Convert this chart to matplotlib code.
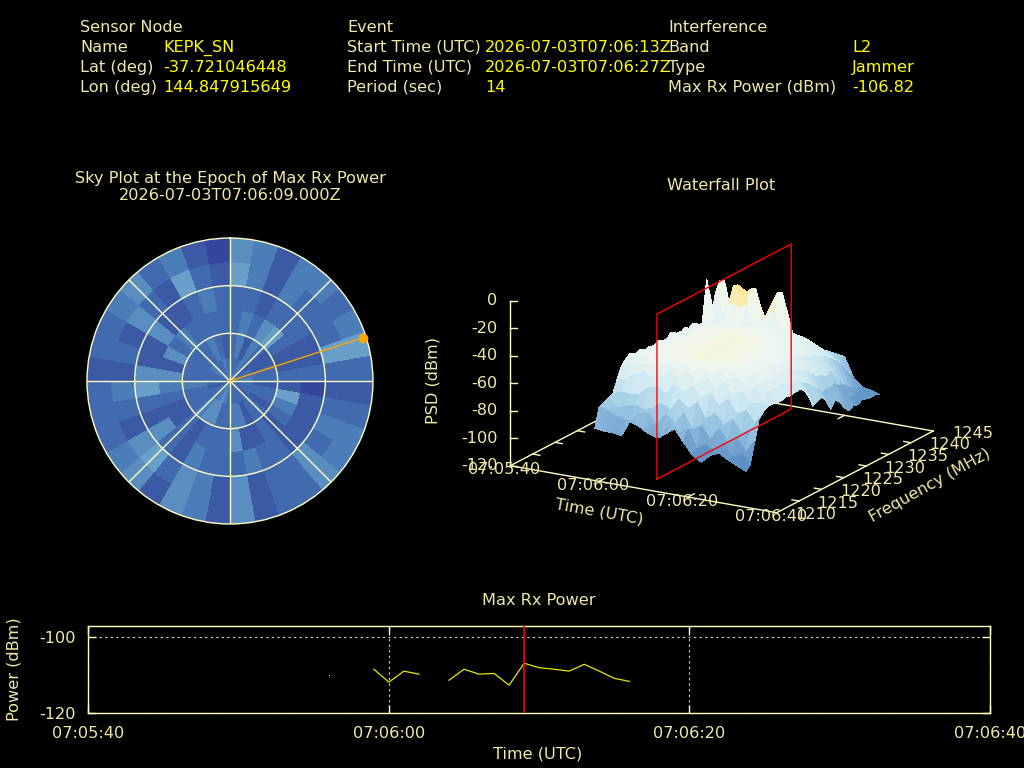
"""Interference report: sky plot, waterfall surface and max rx power strip."""

import matplotlib

matplotlib.use("Agg")
import matplotlib.pyplot as plt
import numpy as np
from matplotlib.colors import LinearSegmentedColormap, Normalize
from mpl_toolkits.mplot3d import proj3d

W, H = 1024, 768
LABEL = "#EEE8AA"
VALUE = "#FFFF00"
AXIS = "#FFFFC4"
FS = 11.65

# header blocks: (label, value)
sensor_rows = [("Name", "KEPK_SN"), ("Lat (deg)", "-37.721046448"), ("Lon (deg)", "144.847915649")]
event_rows = [("Start Time (UTC)", "2026-07-03T07:06:13Z"), ("End Time (UTC)", "2026-07-03T07:06:27Z"),
              ("Period (sec)", "14")]
interf_rows = [("Band", "L2"), ("Type", "Jammer"), ("Max Rx Power (dBm)", "-106.82")]

# sky map: one row per 10 deg of azimuth (clockwise from north), rings centre -> horizon
sky_levels = [
    [3, 3, 3, 3, 6, 5], [3, 4, 4, 3, 4, 4], [3, 2, 3, 2, 2, 2], [4, 4, 5, 3, 4, 4],
    [3, 3, 6, 3, 3, 4], [2, 2, 3, 3, 3, 3], [3, 2, 2, 2, 3, 4], [3, 3, 2, 2, 6, 6],
    [4, 3, 3, 3, 3, 3], [3, 2, 2, 1, 2, 2], [3, 3, 6, 2, 3, 3], [3, 3, 4, 2, 4, 4],
    [3, 2, 3, 2, 3, 4], [2, 3, 2, 2, 5, 5], [3, 3, 3, 3, 3, 3], [3, 2, 2, 3, 3, 3],
    [3, 4, 2, 4, 2, 2], [3, 4, 5, 3, 5, 5], [3, 3, 3, 3, 2, 2], [4, 3, 3, 3, 4, 4],
    [5, 5, 3, 4, 5, 5], [4, 5, 2, 2, 3, 2], [3, 4, 3, 3, 6, 5], [3, 3, 2, 5, 5, 4],
    [3, 3, 2, 2, 2, 3], [2, 3, 3, 3, 3, 3], [3, 4, 4, 6, 4, 3], [3, 3, 5, 5, 2, 2],
    [3, 3, 2, 2, 3, 3], [3, 3, 5, 2, 2, 3], [4, 3, 3, 5, 5, 4], [4, 3, 4, 2, 3, 5],
    [3, 3, 3, 2, 2, 3], [3, 4, 3, 3, 6, 4], [4, 3, 3, 4, 3, 2], [3, 2, 3, 3, 2, 1],
]
max_az_deg = 72
max_zenith_deg = 88

# waterfall: seconds after 07:05:40, MHz, PSD in dBm
wf_time = [15, 17, 19, 21, 23, 25, 27, 29, 31, 33, 35, 37, 39, 41, 43, 45, 47, 49]
wf_freq = list(range(1214, 1245))
wf_psd = [
    [-91, -77, -76, -74, -73, -64, -56, -52, -50, -53, -51, -54, -52, -55, -51, -53, -54, -50, -53, -55, -52, -54, -52, -55, -56, -25, -55, -38, -31, -33, -60],
    [-92, -79, -78, -80, -70, -63, -53, -50, -49, -50, -49, -51, -50, -48, -50, -49, -51, -50, -49, -50, -51, -50, -52, -51, -53, -54, -57, -58, -59, -63, -65],
    [-92, -82, -84, -78, -71, -58, -52, -49, -48, -47, -49, -48, -47, -49, -48, -47, -48, -49, -47, -48, -49, -50, -49, -51, -52, -54, -42, -31, -32, -46, -66],
    [-93, -84, -86, -76, -70, -55, -52, -47, -47, -48, -46, -47, -48, -46, -47, -48, -46, -47, -48, -47, -48, -49, -50, -49, -51, -53, -44, -38, -36, -48, -65],
    [-81, -85, -79, -78, -64, -58, -49, -48, -46, -47, -46, -46, -47, -45, -46, -47, -46, -45, -47, -46, -47, -48, -49, -50, -50, -52, -42, -31, -32, -46, -66],
    [-84, -88, -78, -76, -62, -57, -50, -46, -46, -45, -46, -45, -46, -46, -45, -46, -45, -46, -45, -46, -47, -47, -49, -49, -51, -54, -58, -57, -58, -62, -64],
    [-88, -83, -85, -71, -66, -52, -50, -47, -45, -46, -45, -44, -45, -46, -44, -45, -46, -45, -44, -46, -46, -47, -48, -50, -50, -53, -48, -44, -46, -54, -64],
    [-90, -91, -76, -75, -58, -56, -47, -46, -45, -44, -45, -45, -44, -45, -44, -45, -44, -45, -46, -45, -46, -47, -48, -49, -50, -52, -42, -30, -32, -46, -65],
    [-86, -80, -82, -66, -63, -50, -50, -45, -45, -44, -44, -45, -44, -45, -44, -44, -45, -44, -45, -46, -47, -47, -48, -50, -51, -53, -56, -58, -62, -70, -72],
    [-81, -86, -73, -72, -57, -56, -47, -47, -45, -44, -45, -44, -45, -44, -45, -45, -44, -46, -45, -46, -47, -48, -49, -49, -50, -52, -55, -60, -65, -72, -73],
    [-90, -82, -84, -66, -64, -50, -51, -46, -45, -45, -44, -45, -45, -46, -45, -46, -45, -46, -47, -46, -48, -47, -49, -50, -51, -54, -57, -62, -67, -72, -74],
    [-98, -95, -80, -77, -60, -58, -48, -48, -46, -46, -45, -46, -46, -45, -46, -47, -46, -47, -48, -48, -49, -49, -50, -51, -53, -55, -59, -64, -69, -72, -73],
    [-102, -91, -89, -72, -68, -53, -53, -47, -47, -46, -47, -46, -47, -47, -46, -47, -48, -48, -49, -49, -50, -50, -52, -53, -55, -58, -62, -66, -70, -73, -74],
    [-96, -95, -80, -79, -62, -61, -50, -50, -48, -48, -47, -48, -47, -48, -49, -48, -49, -50, -50, -51, -51, -53, -54, -56, -58, -61, -65, -68, -71, -74, -75],
    [-93, -88, -89, -74, -72, -57, -56, -50, -49, -50, -49, -50, -49, -51, -50, -51, -52, -53, -54, -55, -57, -58, -60, -62, -64, -67, -70, -74, -79, -85, -89],
    [-97, -97, -85, -83, -68, -65, -55, -55, -53, -54, -53, -54, -55, -54, -56, -57, -59, -61, -63, -66, -70, -71, -74, -72, -78, -82, -86, -90, -92, -94, -95],
    [-100, -93, -93, -79, -76, -63, -64, -58, -58, -59, -58, -60, -59, -61, -63, -65, -68, -72, -75, -80, -78, -79, -77, -80, -85, -92, -94, -91, -93, -95, -96],
    [-103, -100, -85, -70, -66, -64, -64, -65, -65, -64, -65, -64, -64, -66, -72, -81, -79, -78, -82, -90, -85, -88, -94, -98, -96, -97, -95, -96, -97, -96, -98],
]
psd_ticks = [0, -20, -40, -60, -80, -100, -120]
freq_ticks = [1210, 1215, 1220, 1225, 1230, 1235, 1240, 1245]
time_ticks = [0, 20, 40, 60]
time_labels = ["07:05:40", "07:06:00", "07:06:20", "07:06:40"]
epoch_sec = 29

# max rx power strip
power_time = [16, 17, 18, 19, 20, 21, 22, 23, 24, 25, 26, 27, 28, 29, 30, 31, 32, 33, 34, 35, 36]
power_dbm = [-110.3, np.nan, np.nan, -108.4, -111.8, -108.9, -109.7, np.nan, -111.3, -108.4, -109.7,
             -109.5, -112.6, -106.82, -108.0, -108.4, -108.9, -107.1, -108.9, -110.8, -111.6]

# surface palette, low to high
wf_cmap = LinearSegmentedColormap.from_list("waterfall", [
    (0.00, "#5078B9"), (0.203, "#6496C8"), (0.405, "#96C3E1"), (0.608, "#CDE8F2"),
    (0.851, "#EEF6F0"), (0.919, "#FAF5CD"), (1.00, "#FAE49B"),
])


def px_axes(fig, left, top, right, bottom, **kw):
    return fig.add_axes([left / W, 1 - bottom / H, (right - left) / W, (bottom - top) / H], **kw)


fig = plt.figure(figsize=(W / 100, H / 100), dpi=100, facecolor="black")

# ---- waterfall, an orthographic box fitted so the base corners land where they should
ax3 = fig.add_axes([0, 0, 1, 1], projection="3d", proj_type="ortho", computed_zorder=False)
ax3.set_xlim(0, 60)
ax3.set_ylim(1210, 1245)
ax3.set_zlim(-120, 0)
ax3.set_box_aspect((308.2, 311.5, 173.2))
ax3.view_init(elev=17.66, azim=-59.82)
ax3.set_axis_off()
ax3.patch.set_visible(False)

M = ax3.get_proj()
vx0, vy0, _ = proj3d.proj_transform(0, 1210, -120, M)
vx1, _, _ = proj3d.proj_transform(60, 1210, -120, M)
xlo, xhi = ax3.viewLim.intervalx  # get_xlim gives the data limits on a 3d axes
ylo, yhi = ax3.viewLim.intervaly
span = xhi - xlo
side = 266.4 / (vx1 - vx0) * span
ppu = side / span
origin_x, origin_y = 510.3, 465.7
left = origin_x - (vx0 - xlo) * ppu
bottom = (H - origin_y) - (vy0 - ylo) * ppu
ax3.set_position([left / W, bottom / H, side / W, side / H])


def screen(t, f, z):
    x, y, _ = proj3d.proj_transform(t, f, z, M)
    return left + (x - xlo) * ppu, H - (bottom + (y - ylo) * ppu)


for seg in [([0, 60], [1210, 1210]), ([0, 0], [1210, 1245]), ([60, 60], [1210, 1245]), ([0, 60], [1245, 1245])]:
    ax3.plot(seg[0], seg[1], [-120, -120], color=AXIS, lw=1, zorder=1)
ax3.plot([0, 0], [1210, 1210], [-120, 0], color=AXIS, lw=1, zorder=1)
for t in time_ticks[1:-1]:
    ax3.plot([t, t], [1210, 1211.4], [-120, -120], color=AXIS, lw=1, zorder=1)
    ax3.plot([t, t], [1245, 1243.6], [-120, -120], color=AXIS, lw=1, zorder=1)
for f in freq_ticks[1:-1]:
    ax3.plot([0, 1.6], [f, f], [-120, -120], color=AXIS, lw=1, zorder=1)
    ax3.plot([60, 58.4], [f, f], [-120, -120], color=AXIS, lw=1, zorder=1)

T, F = np.meshgrid(wf_time, wf_freq, indexing="ij")
ax3.plot_surface(T, F, np.array(wf_psd, dtype=float), cmap=wf_cmap, norm=Normalize(-110, -36),
                 rstride=1, cstride=1, shade=False, linewidth=0, antialiased=False, zorder=2)

red_t = [epoch_sec] * 5
red_f = [1214, 1244, 1244, 1214, 1214]
red_z = [-120, -120, 0, 0, -120]
ax3.plot(red_t, red_f, red_z, color="#FF0000", lw=1, zorder=3)

# ---- sky plot
sky = px_axes(fig, 87, 238, 373, 524, projection="polar", facecolor="black")
sky.set_theta_zero_location("N")
sky.set_theta_direction(-1)
sky_norm = Normalize(0.2, 33)
sky_cmap = plt.get_cmap("RdYlBu_r")
for i, rings in enumerate(sky_levels):
    for j, level in enumerate(rings):
        sky.bar(np.deg2rad(10 * i + 5), 15, width=np.deg2rad(10), bottom=15 * j,
                color=sky_cmap(sky_norm(level)), linewidth=0, antialiased=False, zorder=1)
sky.set_ylim(0, 90)
sky.set_xticks(np.deg2rad(np.arange(0, 360, 45)))
sky.set_yticks([30, 60])
sky.set_xticklabels([])
sky.set_yticklabels([])
sky.grid(True, color=AXIS, lw=1, linestyle="-", zorder=2)
sky.set_axisbelow(False)
sky.spines["polar"].set_color(AXIS)
sky.spines["polar"].set_linewidth(1)
sky.plot([np.deg2rad(max_az_deg)] * 2, [0, max_zenith_deg], color="#FFA500", lw=1, zorder=4)
sky.plot([np.deg2rad(max_az_deg)], [max_zenith_deg], "o", color="#FFA500", ms=7, mew=0, zorder=5, clip_on=False)

# ---- max rx power strip
pw = px_axes(fig, 88.3, 626.3, 990, 713.3, facecolor="black")
pw.set_xlim(0, 60)
pw.set_ylim(-120, -97.1)
pw.axvline(epoch_sec, color="#FF0000", lw=1.2, zorder=3)
pw.plot(power_time, power_dbm, color="#E6E600", lw=0.9, zorder=2)
pw.plot(power_time[0], power_dbm[0], ",", color="#FFFF00", zorder=2)
pw.set_xticks(time_ticks, time_labels)
pw.set_yticks([-120, -100], ["-120", "-100"])
pw.grid(True, color="#D8D8D8", lw=0.8, linestyle=(0, (2, 3)))
pw.tick_params(direction="in", length=6, width=1, color=AXIS, labelcolor=LABEL, labelsize=FS,
               top=True, right=True, pad=9)
for spine in pw.spines.values():
    spine.set_color(AXIS)
    spine.set_linewidth(1)

# ---- text in pixel coordinates
ov = fig.add_axes([0, 0, 1, 1], zorder=10)
ov.set_xlim(0, W)
ov.set_ylim(H, 0)
ov.axis("off")
ov.patch.set_visible(False)


def put(x, y, s, color=LABEL, ha="left", rot=0):
    ov.text(x, y, s, color=color, ha=ha, va="center", fontsize=FS, rotation=rot, rotation_mode="anchor")


row_y = [47.5, 67.5, 87.5]
for title, x_lab, x_val, rows in [("Sensor Node", 80, 163, sensor_rows), ("Event", 347, 485, event_rows),
                                  ("Interference", 668, 852, interf_rows)]:
    put(x_lab, 27, title)
    for y, (lab, val) in zip(row_y, rows):
        put(x_val, y, val, color=VALUE)
    for y, (lab, val) in zip(row_y, rows):
        put(x_lab, y, lab)

put(230, 178.5, "Sky Plot at the Epoch of Max Rx Power", ha="center")
put(230, 196, "2026-07-03T07:06:09.000Z", ha="center")
put(721, 185, "Waterfall Plot", ha="center")
put(539, 600.5, "Max Rx Power", ha="center")
put(538, 754, "Time (UTC)", ha="center")
put(14.5, 669, "Power (dBm)", ha="center", rot=90)

for z in psd_ticks:
    sx, sy = screen(0, 1210, z)
    ov.plot([sx, sx + 7], [sy, sy], color=AXIS, lw=1)
    put(sx - 13, sy, str(z), ha="right")
for t, lab in zip(time_ticks, time_labels):
    sx, sy = screen(t, 1210, -120)
    put(sx - 6, sy + 4, lab, ha="center")
for f in freq_ticks:
    sx, sy = screen(60, f, -120)
    put(sx + 39, sy + 2, str(f), ha="center")
put(433, 380, "PSD (dBm)", ha="center", rot=90)
put(599, 512, "Time (UTC)", ha="center", rot=-10)
put(930, 485, "Frequency (MHz)", ha="center", rot=29)

fig.savefig("out.png", dpi=100, facecolor="black")
